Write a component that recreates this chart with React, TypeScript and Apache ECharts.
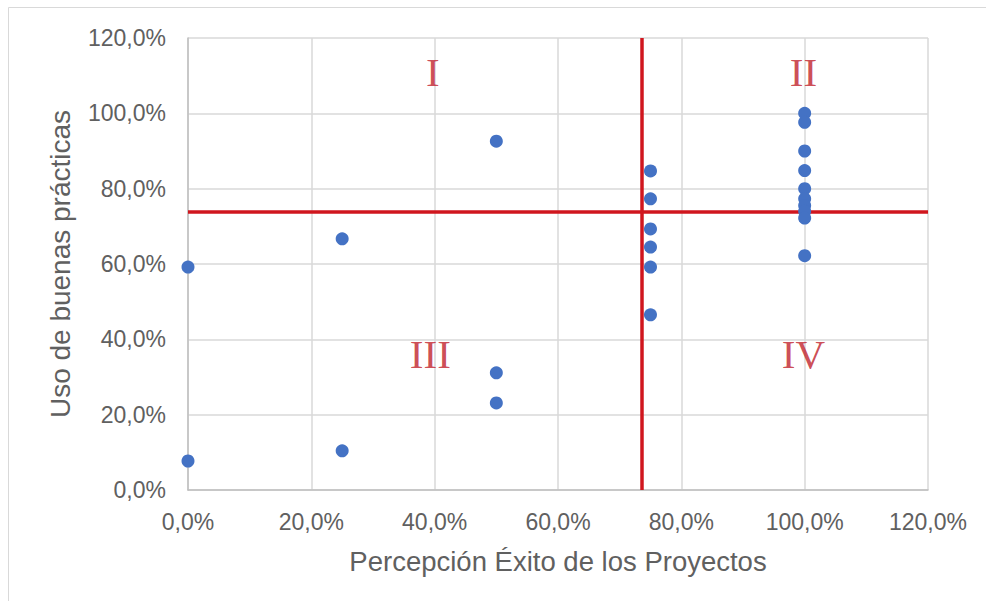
import React, { useEffect, useRef } from "react";
import * as echarts from "echarts";

const xValues = [0, 0, 25, 25, 50, 50, 50, 75, 75, 75, 75, 75, 75, 100, 100, 100, 100, 100, 100, 100, 100, 100, 100];
const yValues = [59.2, 7.7, 66.7, 10.4, 92.6, 31.1, 23.1, 84.7, 77.3, 69.3, 64.5, 59.2, 46.5, 100, 97.6, 90, 84.8, 80, 77.3, 75.5, 74, 72.2, 62.2];
const quadrantNames = ["I", "II", "III", "IV"];
const quadrantX = [39.7, 99.8, 39.3, 99.8];
const quadrantY = [111, 111, 36.2, 36.2];
const thresholdX = 73.5;
const thresholdY = 74;
const xAxisTitle = "Percepción Éxito de los Proyectos";
const yAxisTitle = "Uso de buenas prácticas";

const fmt = (v: number) => v.toFixed(1).replace(".", ",") + "%";

export default function App() {
  const ref = useRef<HTMLDivElement>(null);
  useEffect(() => {
    document.body.style.margin = "0";
    if (!ref.current) return;
    const chart = echarts.init(ref.current, undefined, { renderer: "svg" });
    const points = xValues.map((x, i) => [x, yValues[i]]);
    const labels = quadrantNames.map((n, i) => [quadrantX[i], quadrantY[i], n]);
    const axisLabelStyle = {
      color: "#606060",
      fontSize: 23,
      fontFamily: "Liberation Sans, Arial, sans-serif",
      formatter: fmt,
    };
    chart.setOption({
      animation: false,
      backgroundColor: "#ffffff",
      graphic: [
        {
          type: "rect",
          shape: { x: 8.5, y: 7.5, width: 1200, height: 1000 },
          style: { fill: "none", stroke: "#D9D9D9", lineWidth: 1 },
          silent: true,
          z: -10,
        },
      ],
      grid: { left: 188, right: 58, top: 38, bottom: 111 },
      xAxis: {
        type: "value",
        min: 0,
        max: 120,
        interval: 20,
        name: xAxisTitle,
        nameLocation: "middle",
        nameGap: 57,
        nameTextStyle: { color: "#606060", fontSize: 27.5, fontFamily: "Liberation Sans, Arial, sans-serif" },
        axisLine: { show: true, lineStyle: { color: "#BFBFBF", width: 1.5 } },
        axisTick: { show: false },
        axisLabel: { ...axisLabelStyle, margin: 20 },
        splitLine: { show: true, lineStyle: { color: "#D9D9D9", width: 1.5 } },
      },
      yAxis: {
        type: "value",
        min: 0,
        max: 120,
        interval: 20,
        name: yAxisTitle,
        nameLocation: "middle",
        nameGap: 114,
        nameRotate: 90,
        nameTextStyle: { color: "#606060", fontSize: 28, fontFamily: "Liberation Sans, Arial, sans-serif" },
        axisLine: { show: true, lineStyle: { color: "#BFBFBF", width: 1.5 } },
        axisTick: { show: false },
        axisLabel: { ...axisLabelStyle, margin: 22 },
        splitLine: { show: true, lineStyle: { color: "#D9D9D9", width: 1.5 } },
      },
      series: [
        {
          type: "scatter",
          data: points,
          symbolSize: 13,
          itemStyle: { color: "#4472C4", opacity: 1 },
          z: 3,
          markLine: {
            silent: true,
            symbol: "none",
            label: { show: false },
            lineStyle: { color: "#D0161E", width: 3.5, type: "solid" },
            data: [{ xAxis: thresholdX }, { yAxis: thresholdY }],
            z: 2,
          },
        },
        {
          type: "scatter",
          data: labels,
          symbolSize: 0,
          silent: true,
          label: {
            show: true,
            position: "inside",
            formatter: (p: any) => p.data[2],
            color: "#C0202A",
            fontSize: 41,
            fontFamily: "Liberation Serif, Times New Roman, serif",
          },
        },
      ],
    });
    return () => chart.dispose();
  }, []);
  return <div ref={ref} style={{ width: 986, height: 601 }} />;
}
